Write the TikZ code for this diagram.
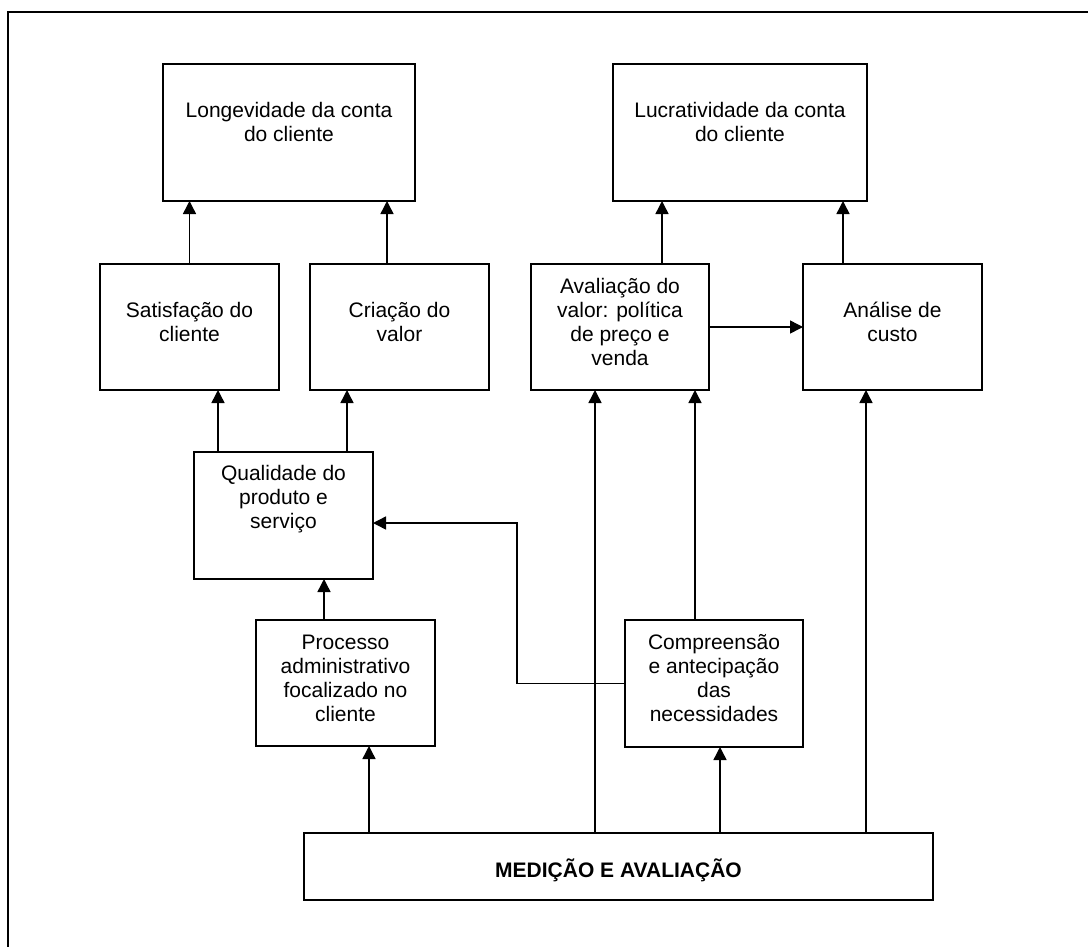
\documentclass[tikz,border=0pt]{standalone}
\usepackage{fontspec}
\setmainfont{Liberation Sans}
\usetikzlibrary{arrows.meta,calc}
% one drawing unit
\newdimen\pxu \pxu=0.75pt
% box content: width, height, first baseline, text (top aligned, centred)
\newcommand\cellbox[4]{\parbox[c][#2\pxu][t]{#1\pxu}{\centering\rule{0pt}{#3\pxu}#4}}

\begin{document}
\begin{tikzpicture}[x=0.75pt,y=-0.75pt,
  nbox/.style={draw, line width=1.1pt, inner sep=0pt, outer sep=0pt,
    anchor=north west, font=\fontsize{15.75pt}{18pt}\selectfont},
  arr/.style={line width=1.1pt, -{Triangle[length=9.75pt,width=9.75pt]}},
  frame/.style={line width=1.6pt}]

\useasboundingbox (0,0) rectangle (1088,946);

% outer frame
\draw[frame] (1100,12) -- (8,12) -- (8,960);

% boxes
\node[nbox] (lon) at (163,64) {\cellbox{252}{137}{53}{Longevidade da conta\\do cliente}};
\node[nbox] (luc) at (613,64) {\cellbox{254}{137}{53}{Lucratividade da conta\\do cliente}};
\node[nbox] (sat) at (100,264) {\cellbox{179}{126}{53}{Satisfação do\\cliente}};
\node[nbox] (cri) at (310,264) {\cellbox{179}{126}{53}{Criação do\\valor}};
\node[nbox] (ava) at (531,264) {\cellbox{178}{126}{29}{Avaliação do\\valor: política\\de preço e\\venda}};
\node[nbox] (ana) at (803,264) {\cellbox{179}{126}{53}{Análise de\\custo}};
\node[nbox] (qua) at (194,452) {\cellbox{179}{127}{28}{Qualidade do\\produto e\\serviço}};
\node[nbox] (pro) at (256,620) {\cellbox{179}{126}{29}{Processo\\administrativo\\focalizado no\\cliente}};
\node[nbox] (com) at (625,620) {\cellbox{178}{127}{29}{Compreensão\\e antecipação\\das\\necessidades}};
\node[nbox] (med) at (304,833) {\cellbox{629}{67}{44}{\bfseries MEDIÇÃO E AVALIAÇÃO}};

% connectors
\draw[arr] (sat.north) -- (sat.north |- lon.south);
\draw[arr] ($(cri.north)+(-12.5,0)$) coordinate (c1) -- (c1 |- lon.south);
\draw[arr] ($(ava.north)+(42,0)$) coordinate (a1) -- (a1 |- luc.south);
\draw[arr] ($(ana.north)+(-49.5,0)$) coordinate (a2) -- (a2 |- luc.south);
\draw[arr] (ava.east) -- (ana.west);
\draw[arr] ($(qua.north)+(-65.5,0)$) coordinate (q1) -- (q1 |- sat.south);
\draw[arr] ($(qua.north)+(63.5,0)$) coordinate (q2) -- (q2 |- cri.south);
\draw[arr] ($(pro.north)+(-21.5,0)$) coordinate (p1) -- (p1 |- qua.south);
\coordinate (turn) at (517,523);
\draw[arr] (com.west) -| (turn) -- (turn -| qua.east);
\draw[arr] ($(com.north)+(-19,0)$) coordinate (c2) -- (c2 |- ava.south);
\draw[arr] ($(med.north)+(-249.5,0)$) coordinate (m1) -- (m1 |- pro.south);
\draw[arr] ($(med.north)+(-23.5,0)$) coordinate (m2) -- (m2 |- ava.south);
\draw[arr] ($(med.north)+(101.5,0)$) coordinate (m3) -- (m3 |- com.south);
\draw[arr] ($(med.north)+(247.5,0)$) coordinate (m4) -- (m4 |- ana.south);

\end{tikzpicture}
\end{document}
